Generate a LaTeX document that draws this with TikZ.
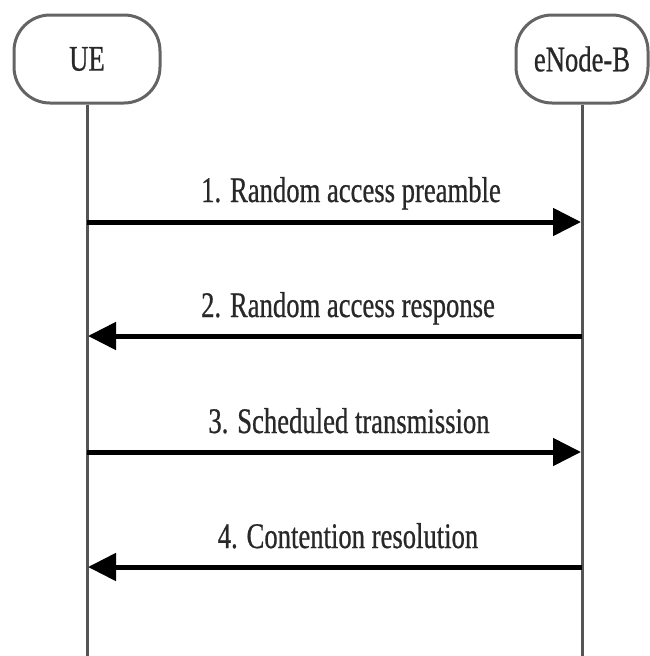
\documentclass[tikz,border=0pt]{standalone}
\usepackage{fontspec}
\setmainfont{Liberation Serif}[FakeStretch=0.74,FakeBold=0.6]
\usetikzlibrary{arrows.meta}
\definecolor{boxgray}{RGB}{100,100,100}
\definecolor{linegray}{RGB}{85,85,85}
\definecolor{txtgray}{RGB}{40,40,40}
\tikzset{
  actor/.style={draw=boxgray, line width=3pt, rounded corners=36pt, minimum height=88pt, inner sep=0pt, text=txtgray, font=\fontsize{36}{40}\selectfont},
  lifeline/.style={draw=linegray, line width=3pt},
  msg/.style={line width=5pt, -{Triangle[length=28pt,width=27pt]}, shorten >=1pt},
  msglabel/.style={anchor=base, text=txtgray, font=\fontsize{36}{40}\selectfont, inner sep=0pt}
}
\begin{document}
\begin{tikzpicture}[x=1pt,y=1pt]
\useasboundingbox (0,0) rectangle (649,-656);
\node[actor, minimum width=146pt] (ue) at (87,-59) {UE};
\node[actor, minimum width=132pt] (enb) at (582,-59) {eNode-B};
\coordinate (ueend) at (87,-656);
\coordinate (enbend) at (582,-656);
\draw[lifeline] (ue.south) -- (ueend);
\draw[lifeline] (enb.south) -- (enbend);
% message points
\coordinate (u1) at (87,-222);  \coordinate (e1) at (582,-222);
\coordinate (u2) at (87,-336);  \coordinate (e2) at (582,-336);
\coordinate (u3) at (87,-452);  \coordinate (e3) at (582,-452);
\coordinate (u4) at (87,-567);  \coordinate (e4) at (582,-567);
\draw[msg] (u1) -- (e1);
\draw[msg] (e2) -- (u2);
\draw[msg] (u3) -- (e3);
\draw[msg] (e4) -- (u4);
\node[msglabel] (l1) at (351,-202) {1. Random access preamble};
\node[msglabel] (l2) at (348,-317) {2. Random access response};
\node[msglabel] (l3) at (349,-433) {3. Scheduled transmission};
\node[msglabel] (l4) at (348,-548) {4. Contention resolution};
\end{tikzpicture}
\end{document}
